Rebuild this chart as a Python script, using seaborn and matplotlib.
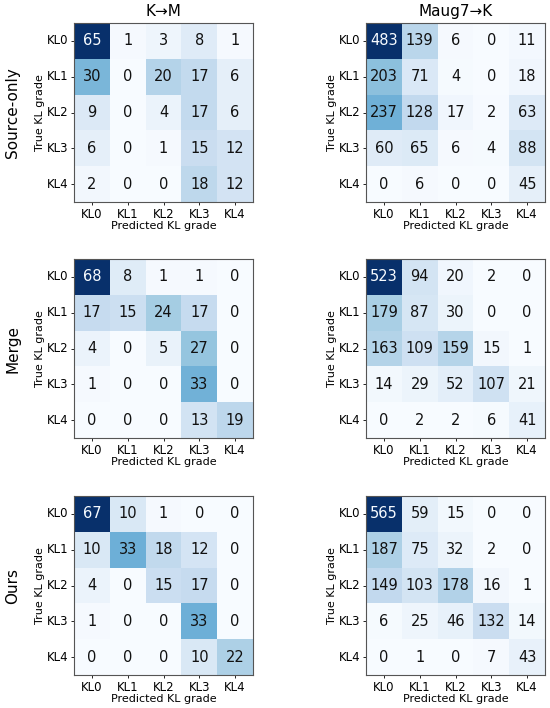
import numpy as np
import matplotlib
matplotlib.use("Agg")
import matplotlib.pyplot as plt
import seaborn as sns

labels = ["KL0", "KL1", "KL2", "KL3", "KL4"]
col_titles = ["K\u2192M", "Maug7\u2192K"]
row_titles = ["Source-only", "Merge", "Ours"]

km_source = [[65, 1, 3, 8, 1],
             [30, 0, 20, 17, 6],
             [9, 0, 4, 17, 6],
             [6, 0, 1, 15, 12],
             [2, 0, 0, 18, 12]]
mk_source = [[483, 139, 6, 0, 11],
             [203, 71, 4, 0, 18],
             [237, 128, 17, 2, 63],
             [60, 65, 6, 4, 88],
             [0, 6, 0, 0, 45]]
km_merge = [[68, 8, 1, 1, 0],
            [17, 15, 24, 17, 0],
            [4, 0, 5, 27, 0],
            [1, 0, 0, 33, 0],
            [0, 0, 0, 13, 19]]
mk_merge = [[523, 94, 20, 2, 0],
            [179, 87, 30, 0, 0],
            [163, 109, 159, 15, 1],
            [14, 29, 52, 107, 21],
            [0, 2, 2, 6, 41]]
km_ours = [[67, 10, 1, 0, 0],
           [10, 33, 18, 12, 0],
           [4, 0, 15, 17, 0],
           [1, 0, 0, 33, 0],
           [0, 0, 0, 10, 22]]
mk_ours = [[565, 59, 15, 0, 0],
           [187, 75, 32, 2, 0],
           [149, 103, 178, 16, 1],
           [6, 25, 46, 132, 14],
           [0, 1, 0, 7, 43]]

mats = [[km_source, mk_source], [km_merge, mk_merge], [km_ours, mk_ours]]

fig = plt.figure(figsize=(5.5, 7.08), dpi=100)
W, H = 550, 708
xs = [74, 366]
ys = [23, 259, 496]
size = 179
cmap = plt.get_cmap("Blues")

for r in range(3):
    for c in range(2):
        m = np.array(mats[r][c])
        ax = fig.add_axes([xs[c] / W, 1 - (ys[r] + size) / H, size / W, size / H])
        sns.heatmap(m, ax=ax, cmap="Blues", cbar=False,
                    annot=True, fmt="d", annot_kws={"fontsize": 10.5},
                    xticklabels=labels, yticklabels=labels, square=False)
        thresh = (m.max() + m.min()) / 2.0
        flat = m.flatten()
        for t, v in zip(ax.texts, flat):
            t.set_color(cmap(0.0) if v > thresh else "#111111")
        for s in ax.spines.values():
            s.set_visible(True)
            s.set_edgecolor("#555555")
            s.set_linewidth(0.8)
        ax.tick_params(axis="both", labelsize=8.5, length=2.5, width=0.6, pad=1.5)
        ax.set_yticklabels(labels, rotation=0)
        ax.set_xticklabels(labels, rotation=0)
        ax.set_xlabel("Predicted KL grade", fontsize=8, labelpad=0)
        ax.set_ylabel("True KL grade", fontsize=8, labelpad=1)
        if r == 0:
            ax.set_title(col_titles[c], fontsize=11, pad=5)
    fig.text(13 / W, 1 - (ys[r] + size / 2) / H, row_titles[r], rotation=90,
             ha="center", va="center", fontsize=11)

fig.savefig("out.png", dpi=100)
